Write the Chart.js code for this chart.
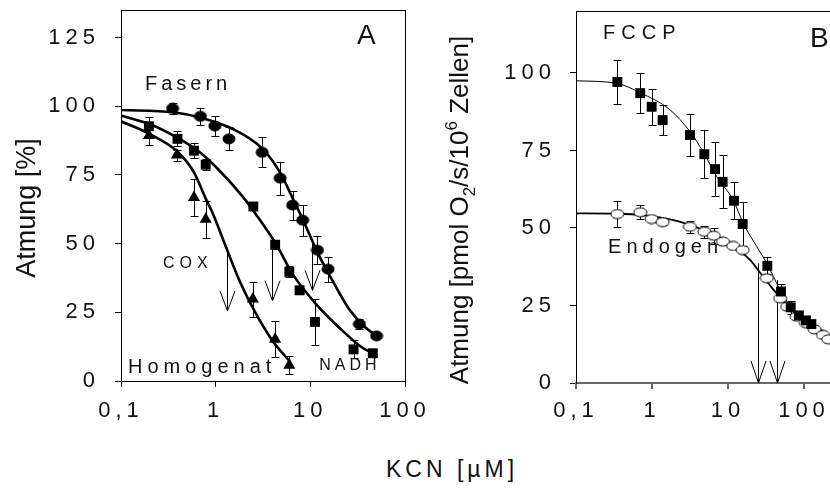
<!DOCTYPE html>
<html>
<head>
<meta charset="utf-8">
<script src="https://cdn.jsdelivr.net/npm/chart.js@4.4.0/dist/chart.umd.min.js"></script>
<style>
  body { margin: 0; width: 830px; height: 490px; overflow: hidden; background: #fff; position: relative; }
  #chartA { position: absolute; left: 0; top: 0; }
  #chartB { position: absolute; left: 430px; top: 0; }
  #xtitle { position: absolute; left: 386px; top: 457px; font: 23px "Liberation Sans", Arial, sans-serif;
            letter-spacing: 4px; color: #111; white-space: nowrap; line-height: 24px; }
</style>
</head>
<body>
<canvas id="chartA" width="430" height="440"></canvas>
<canvas id="chartB" width="460" height="440"></canvas>
<div id="xtitle">KCN [µM]</div>
<script>
// tick values
var xTicks = [0.1, 1, 10, 100];
var yTicksA = [0, 25, 50, 75, 100, 125];
var yTicksB = [0, 25, 50, 75, 100];

// Panel A: Atmung [%] vs KCN [uM]
var fasernX   = [0.35, 0.69, 0.98, 1.38, 3.1, 4.8, 6.5, 8.3, 11.9, 15.4, 33, 50];
var fasernY   = [99.2, 96.3, 92.8, 88.1, 83.2, 73.8, 64.0, 58.5, 47.6, 40.7, 20.7, 16.4];
var fasernErr = [2, 3, 3.7, 4.2, 5.5, 6, 5.3, 5.6, 5.2, 4.5, 1.8, 0.8];

var nadhX   = [0.197, 0.395, 0.59, 0.785, 2.5, 4.25, 6.0, 7.7, 11.2, 28.6, 45.7];
var nadhY   = [92.7, 88.1, 83.8, 78.7, 63.5, 49.6, 39.7, 33.0, 21.5, 11.5, 10.1];
var nadhErr = [3.3, 2.7, 2.7, 2, 0, 1.5, 2, 1, 8.5, 3.3, 1];

var coxX   = [0.197, 0.39, 0.59, 0.785, 2.47, 4.25, 6.0];
var coxY   = [89.3, 82.2, 66.8, 58.9, 29.8, 15.2, 5.7];
var coxErr = [3.6, 2, 6.7, 6.7, 6.4, 6.6, 3.3];

// fitted curves
var fasernFitX = [0.1, 0.356, 0.68, 1.52, 3.15, 4.9, 6.5, 8.3, 11.9, 17.2, 25.7, 38.5, 53];
var fasernFitY = [98.6, 97.8, 95.9, 91.7, 84.4, 75.3, 66.5, 58.9, 46.8, 36.4, 26.1, 19.4, 16.0];
var nadhFitX = [0.1, 0.2, 0.385, 0.68, 1.1, 1.94, 2.68, 4.35, 6.5, 11.5, 20.2, 35.5, 49];
var nadhFitY = [96.6, 93.5, 88.7, 83.2, 76.5, 67, 60.5, 49.8, 38.9, 28, 19.4, 12.1, 9.7];
var coxFitX = [0.1, 0.2, 0.385, 0.577, 0.8, 0.94, 1.29, 1.79, 2.68, 4.0, 6.0];
var coxFitY = [94.5, 89.9, 83.8, 76.5, 65.8, 60.7, 48.6, 36.4, 24.3, 14.6, 7.3];

// IC50 arrows
var arrowAX = [1.33, 3.92, 10.4];
var arrowATop = [48.6, 49.8, 49.8];
var arrowABottom = [25.5, 29.2, 33];

// Panel B: Atmung [pmol O2/s/10^6 Zellen]
var fccpX   = [0.35, 0.70, 0.99, 1.38, 3.16, 4.88, 6.75, 8.5, 12.0, 15.6, 32.9, 49.8, 66.9, 85.6, 106, 125];
var fccpY   = [97.1, 93.5, 89.1, 84.8, 80.0, 73.8, 69.0, 64.9, 58.8, 51.3, 37.8, 29.5, 24.4, 21.8, 20.2, 19.0];
var fccpErr = [7.1, 6.5, 5.8, 4.9, 6.8, 7.8, 8.7, 8.5, 5.9, 7.1, 2.7, 2.3, 2, 1.2, 1, 1];

var endoX   = [0.35, 0.70, 0.99, 1.38, 3.16, 4.88, 6.5, 8.6, 11.7, 15.6, 32.4, 48.6, 60, 80, 106, 138, 178, 209];
var endoY   = [54.5, 55.1, 52.9, 51.9, 50.4, 48.8, 47.5, 45.6, 44.2, 42.9, 33.8, 27.3, 24.6, 21.4, 19.3, 17.3, 15.5, 14.1];
var endoErr = [4.2, 2.3, 1, 0.8, 2, 2, 2.5, 1, 0.8, 0.8, 0, 0, 0, 0, 0, 0, 0, 0];

var fccpFitX = [0.1, 0.34, 0.69, 1.73, 3.16, 4.7, 7.1, 11.7, 15.9, 23.9, 32.4, 48.6, 72, 120, 209, 260];
var fccpFitY = [97.5, 96.7, 93.7, 88.1, 81.1, 74.6, 66.6, 59, 51.5, 44, 38.6, 30, 23.5, 19.3, 15.5, 14.3];
var endoFitX = [0.1, 0.35, 1.73, 4.7, 10.6, 19.5, 29, 43.6, 65, 98, 147, 220, 260];
var endoFitY = [54.7, 54.6, 52.8, 49.4, 45.1, 39.7, 34.3, 28.9, 24.6, 21.4, 18.2, 14.9, 13.8];

var arrowBX = [25.1, 44.6];
var arrowBTop = [38.6, 33.2];
var arrowBBottom = [0, 0];

var FONT = '"Liberation Sans", Arial, sans-serif';
Chart.defaults.font.family = FONT;
Chart.defaults.color = '#111';

function pts(xs, ys) {
  return xs.map(function (x, i) { return {x: x, y: ys[i]}; });
}

// little ellipse markers like the original
function ellipseMarker(w, h, fill) {
  var c = document.createElement('canvas');
  c.width = w + 2; c.height = h + 2;
  var g = c.getContext('2d');
  g.fillStyle = fill; g.strokeStyle = '#000'; g.lineWidth = 1;
  g.beginPath();
  g.ellipse(c.width / 2, c.height / 2, w / 2, h / 2, 0, 0, 2 * Math.PI);
  g.fill(); g.stroke();
  return c;
}
var dot = ellipseMarker(12, 10, '#000');
var ring = ellipseMarker(13, 9, '#fff');

function fmtTick(v) {
  return String(v).replace('.', ',');
}

function errorBars(chart, xs, ys, es, cap) {
  var ctx = chart.ctx, sx = chart.scales.x, sy = chart.scales.y;
  ctx.save();
  ctx.strokeStyle = '#000'; ctx.lineWidth = 1;
  ctx.beginPath();
  for (var i = 0; i < xs.length; i++) {
    if (!es[i]) continue;
    var px = Math.round(sx.getPixelForValue(xs[i])) + 0.5;
    var y1 = Math.round(sy.getPixelForValue(ys[i] + es[i])) + 0.5;
    var y2 = Math.round(sy.getPixelForValue(ys[i] - es[i])) + 0.5;
    ctx.moveTo(px, y1); ctx.lineTo(px, y2);
    ctx.moveTo(px - cap, y1); ctx.lineTo(px + cap, y1);
    ctx.moveTo(px - cap, y2); ctx.lineTo(px + cap, y2);
  }
  ctx.stroke();
  ctx.restore();
}

function arrows(chart, xs, tops, bottoms, hw, hh) {
  var ctx = chart.ctx, sx = chart.scales.x, sy = chart.scales.y;
  ctx.save();
  ctx.strokeStyle = '#000'; ctx.lineWidth = 1;
  ctx.beginPath();
  for (var i = 0; i < xs.length; i++) {
    var px = Math.round(sx.getPixelForValue(xs[i])) + 0.5;
    var yt = sy.getPixelForValue(tops[i]);
    var yb = sy.getPixelForValue(bottoms[i]);
    ctx.moveTo(px, yt); ctx.lineTo(px, yb);
    ctx.moveTo(px - hw, yb - hh); ctx.lineTo(px, yb); ctx.lineTo(px + hw, yb - hh);
  }
  ctx.stroke();
  ctx.restore();
}

function labels(chart, list) {
  var ctx = chart.ctx, sx = chart.scales.x, sy = chart.scales.y;
  ctx.save();
  ctx.fillStyle = '#111';
  ctx.textBaseline = 'alphabetic';
  ctx.textAlign = 'left';
  list.forEach(function (l) {
    ctx.font = l[3] + 'px ' + FONT;
    ctx.letterSpacing = l[4] + 'px';
    ctx.fillText(l[0], sx.getPixelForValue(l[1]), sy.getPixelForValue(l[2]));
  });
  ctx.restore();
}

// no extra room for tick labels at the ends: the box is placed by hand
function noPad(s) {
  s.paddingTop = 0; s.paddingBottom = 0; s.paddingLeft = 0; s.paddingRight = 0;
}

function scales(o) {
  return {
    x: {
      type: 'logarithmic', min: 0.1, max: o.xMax,
      afterBuildTicks: function (s) { s.ticks = xTicks.map(function (v) { return {value: v}; }); },
      afterFit: function (s) { s.height = o.xHeight; noPad(s); },
      grid: { drawOnChartArea: false, drawTicks: true, tickLength: 6, color: o.xColor, lineWidth: o.xWidth },
      border: { display: true, color: o.xColor, width: o.xWidth },
      ticks: { font: {size: 22}, padding: o.xPad, z: 1, autoSkip: false, maxRotation: 0, callback: fmtTick }
    },
    y: {
      type: 'linear', min: 0, max: o.yMax,
      afterBuildTicks: function (s) { s.ticks = o.yTicks.map(function (v) { return {value: v}; }); },
      afterFit: function (s) { s.width = o.yWidth; noPad(s); },
      grid: { drawOnChartArea: false, drawTicks: true, tickLength: 6, color: '#000' },
      border: { display: true, color: '#000', width: 1 },
      ticks: { font: {size: 22}, padding: o.yPad, z: 1, autoSkip: false }
    }
  };
}

// tick labels in the original are letter-spaced; labels are drawn after datasets (ticks.z = 1)
var spacing = {
  id: 'spacing',
  beforeDraw: function (chart) { chart.ctx.letterSpacing = '0px'; },
  afterDatasetsDraw: function (chart) { chart.ctx.letterSpacing = '5px'; }
};

var panelA = {
  id: 'panelA',
  beforeDatasetsDraw: function (chart) {
    var a = chart.chartArea, ctx = chart.ctx;
    ctx.save();
    ctx.strokeStyle = '#000'; ctx.lineWidth = 1;
    ctx.strokeRect(Math.round(a.left) + 0.5, Math.round(a.top) + 0.5,
                   Math.round(a.right - a.left), Math.round(a.bottom - a.top));
    ctx.restore();
    arrows(chart, arrowAX, arrowATop, arrowABottom, 7.5, 20);
    errorBars(chart, fasernX, fasernY, fasernErr, 4);
    errorBars(chart, nadhX, nadhY, nadhErr, 4);
    errorBars(chart, coxX, coxY, coxErr, 4);
  },
  afterDraw: function (chart) {
    labels(chart, [
      ['Fasern', 0.179, 106, 20, 4],
      ['COX', 0.277, 41.2, 16, 5],
      ['Homogenat', 0.1185, 2.9, 20, 5],
      ['NADH', 12.4, 4.0, 16, 4],
      ['A', 31.2, 122.8, 28, 0]
    ]);
    var ctx = chart.ctx;
    ctx.save();
    ctx.letterSpacing = '0px';
    ctx.fillStyle = '#111';
    ctx.font = '27px ' + FONT;
    ctx.textAlign = 'center';
    ctx.translate(35, 208);
    ctx.rotate(-Math.PI / 2);
    ctx.fillText('Atmung [%]', 0, 0);
    ctx.restore();
  }
};

var panelB = {
  id: 'panelB',
  beforeDatasetsDraw: function (chart) {
    var a = chart.chartArea, ctx = chart.ctx;
    ctx.save();
    ctx.strokeStyle = '#000'; ctx.lineWidth = 1;
    ctx.beginPath();
    ctx.moveTo(a.left, Math.round(a.top) + 0.5);
    ctx.lineTo(a.right, Math.round(a.top) + 0.5);
    ctx.lineTo(a.right, a.bottom);
    ctx.stroke();
    ctx.restore();
    arrows(chart, arrowBX, arrowBTop, arrowBBottom, 7.5, 22);
    errorBars(chart, fccpX, fccpY, fccpErr, 4);
    errorBars(chart, endoX, endoY, endoErr, 4);
  },
  afterDraw: function (chart) {
    labels(chart, [
      ['FCCP', 0.227, 111, 20, 6],
      ['Endogen', 0.264, 41.9, 20, 5],
      ['B', 120, 108.4, 28, 0]
    ]);
    // y title with sub- and superscript
    var ctx = chart.ctx;
    var parts = [
      ['Atmung [pmol O', 26, 0],
      ['2', 17, 7],
      ['/s/10', 26, 0],
      ['6', 17, -11],
      [' Zellen]', 26, 0]
    ];
    ctx.save();
    ctx.letterSpacing = '0px';
    ctx.fillStyle = '#111';
    ctx.textAlign = 'left';
    var total = 0;
    parts.forEach(function (p) { ctx.font = p[1] + 'px ' + FONT; total += ctx.measureText(p[0]).width; });
    ctx.translate(38, 210);
    ctx.rotate(-Math.PI / 2);
    var x = -total / 2;
    parts.forEach(function (p) {
      ctx.font = p[1] + 'px ' + FONT;
      ctx.fillText(p[0], x, p[2]);
      x += ctx.measureText(p[0]).width;
    });
    ctx.restore();
  }
};

new Chart(document.getElementById('chartA'), {
  type: 'scatter',
  data: {
    datasets: [
      { data: pts(fasernX, fasernY), pointStyle: dot, order: 0 },
      { data: pts(nadhX, nadhY), pointStyle: 'rect', pointRadius: 7, backgroundColor: '#000', borderColor: '#000', borderWidth: 0, order: 0 },
      { data: pts(coxX, coxY), pointStyle: 'triangle', pointRadius: 7, backgroundColor: '#000', borderColor: '#000', borderWidth: 0, order: 0 },
      { data: pts(fasernFitX, fasernFitY), showLine: true, pointRadius: 0, borderColor: '#000', borderWidth: 2.6, cubicInterpolationMode: 'monotone', order: 1 },
      { data: pts(nadhFitX, nadhFitY), showLine: true, pointRadius: 0, borderColor: '#000', borderWidth: 2.6, cubicInterpolationMode: 'monotone', order: 1 },
      { data: pts(coxFitX, coxFitY), showLine: true, pointRadius: 0, borderColor: '#000', borderWidth: 2.6, cubicInterpolationMode: 'monotone', order: 1 }
    ]
  },
  options: {
    responsive: false, animation: false, devicePixelRatio: 1,
    layout: { padding: { top: 10, right: 25, left: 0, bottom: 0 } },
    plugins: { legend: { display: false }, tooltip: { enabled: false } },
    scales: scales({ xMax: 100, yMax: 135, yTicks: yTicksA, yWidth: 121, xHeight: 59,
                     yPad: 15, xPad: 11, xColor: '#000', xWidth: 1 })
  },
  plugins: [spacing, panelA]
});

new Chart(document.getElementById('chartB'), {
  type: 'scatter',
  data: {
    datasets: [
      { data: pts(fccpX, fccpY), pointStyle: 'rect', pointRadius: 7, backgroundColor: '#000', borderColor: '#000', borderWidth: 0, order: 0 },
      { data: pts(endoX, endoY), pointStyle: ring, order: 1 },
      { data: pts(fccpFitX, fccpFitY), showLine: true, pointRadius: 0, borderColor: '#000', borderWidth: 1, cubicInterpolationMode: 'monotone', order: 2 },
      { data: pts(endoFitX, endoFitY), showLine: true, pointRadius: 0, borderColor: '#000', borderWidth: 1.8, cubicInterpolationMode: 'monotone', order: 2 }
    ]
  },
  options: {
    responsive: false, animation: false, devicePixelRatio: 1,
    layout: { padding: { top: 11, right: 10, left: 0, bottom: 0 } },
    plugins: { legend: { display: false }, tooltip: { enabled: false } },
    scales: scales({ xMax: 1000, yMax: 120, yTicks: yTicksB, yWidth: 146, xHeight: 57,
                     yPad: 14, xPad: 9, xColor: '#666', xWidth: 2 })
  },
  plugins: [spacing, panelB]
});
</script>
</body>
</html>
